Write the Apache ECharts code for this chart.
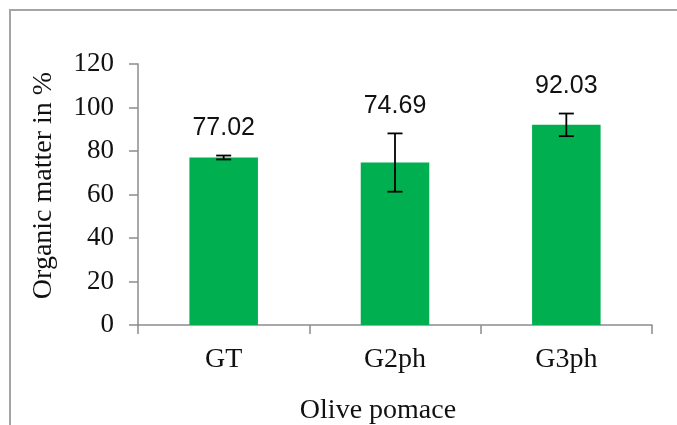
<!DOCTYPE html>
<html>
<head>
<meta charset="utf-8">
<script src="https://cdn.jsdelivr.net/npm/echarts@6/dist/echarts.min.js"></script>
<style>
  html, body { margin: 0; padding: 0; background: #fff; overflow: hidden; }
  #wrap { position: relative; width: 677px; height: 425px; }
  #frame { position: absolute; left: 9px; top: 9px; width: 700px; height: 440px;
           border: 2px solid #a5a5a5; box-sizing: border-box; }
  #chart { position: absolute; left: 0; top: 0; width: 677px; height: 425px; }
</style>
</head>
<body>
<div id="wrap">
  <div id="frame"></div>
  <div id="chart"></div>
</div>
<script>
// Organic matter content of olive pomace types (mean ± SD)
const categories = ['GT', 'G2ph', 'G3ph'];
const organicMatter = [77.02, 74.69, 92.03];
const stdDev = [0.9, 13.4, 5.2];
const yTicks = { min: 0, max: 120, interval: 20 };

const serif = '"Liberation Serif", "Times New Roman", serif';
const sans = '"Liberation Sans", Arial, sans-serif';
const axisGray = '#8c8c8c';

const errorData = categories.map((c, i) => [i, organicMatter[i], stdDev[i]]);

const chart = echarts.init(document.getElementById('chart'), null, { renderer: 'canvas' });

chart.setOption({
  animation: false,
  backgroundColor: 'transparent',
  grid: { left: 138, right: 25, top: 64, bottom: 100, containLabel: false, outerBoundsMode: 'none' },
  xAxis: {
    type: 'category',
    data: categories,
    name: 'Olive pomace',
    nameLocation: 'middle',
    nameGap: 72,
    nameTextStyle: { fontFamily: serif, fontSize: 28, color: '#111', padding: [0, 34, 0, 0] },
    axisLine: { lineStyle: { color: axisGray, width: 1.5 } },
    axisTick: { show: true, length: 9, alignWithLabel: false, lineStyle: { color: axisGray, width: 1.5 } },
    axisLabel: { fontFamily: serif, fontSize: 28, color: '#111', margin: 21 }
  },
  yAxis: {
    type: 'value',
    min: yTicks.min,
    max: yTicks.max,
    interval: yTicks.interval,
    name: 'Organic matter in %',
    nameLocation: 'middle',
    nameGap: 80,
    nameRotate: 90,
    nameTextStyle: { fontFamily: serif, fontSize: 28, color: '#111', padding: [0, 0, 0, 18] },
    axisLine: { show: true, lineStyle: { color: axisGray, width: 1.5 } },
    axisTick: { show: true, length: 9, lineStyle: { color: axisGray, width: 1.5 } },
    axisLabel: { fontFamily: serif, fontSize: 27, color: '#111', margin: 24 },
    splitLine: { show: false }
  },
  series: [
    {
      type: 'bar',
      data: organicMatter,
      barWidth: '40%',
      itemStyle: { color: '#00b050' },
      z: 2
    },
    {
      type: 'custom',
      data: errorData,
      z: 5,
      renderItem: function (params, api) {
        const x = api.value(0);
        const mean = api.value(1);
        const sd = api.value(2);
        const top = api.coord([x, mean + sd]);
        const bot = api.coord([x, mean - sd]);
        const cap = 7.5;
        const style = { stroke: '#000', lineWidth: 1.8 };
        return {
          type: 'group',
          children: [
            { type: 'line', shape: { x1: top[0], y1: top[1], x2: bot[0], y2: bot[1] }, style: style },
            { type: 'line', shape: { x1: top[0] - cap, y1: top[1], x2: top[0] + cap, y2: top[1] }, style: style },
            { type: 'line', shape: { x1: bot[0] - cap, y1: bot[1], x2: bot[0] + cap, y2: bot[1] }, style: style },
            {
              type: 'text',
              style: {
                x: top[0], y: top[1] - 27,
                text: mean.toFixed(2),
                fontFamily: sans, fontSize: 25, fill: '#111',
                align: 'center', verticalAlign: 'middle'
              }
            }
          ]
        };
      }
    }
  ]
});
</script>
</body>
</html>
